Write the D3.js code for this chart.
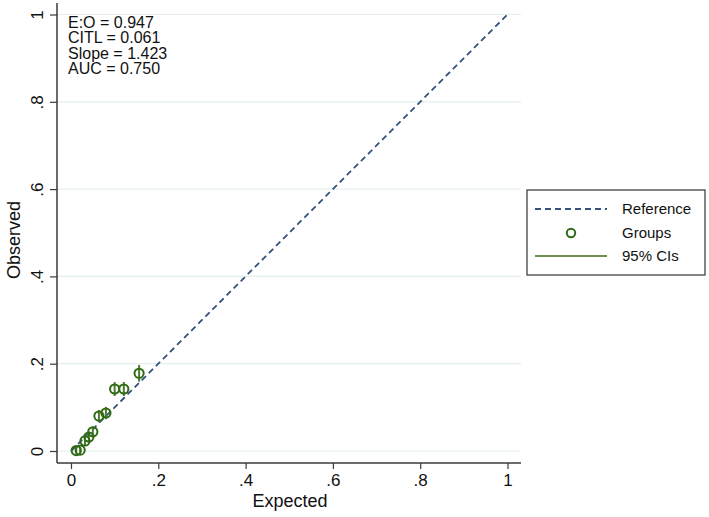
<!DOCTYPE html>
<html>
<head>
<meta charset="utf-8">
<script src="https://cdn.jsdelivr.net/npm/d3@7"></script>
<style>
  body { margin: 0; background: #fff; }
  svg { display: block; font-family: "Liberation Sans", Arial, Helvetica, sans-serif; }
</style>
</head>
<body>
<svg id="chart" width="709" height="517"></svg>
<script>
// ---- data ----
const expected = [0.012, 0.021, 0.032, 0.041, 0.050, 0.064, 0.080, 0.100, 0.121, 0.156];
const observed = [0.001, 0.002, 0.023, 0.032, 0.044, 0.080, 0.087, 0.142, 0.142, 0.178];
const ciLower  = [-0.006, -0.005, 0.014, 0.022, 0.032, 0.066, 0.073, 0.126, 0.126, 0.159];
const ciUpper  = [0.008, 0.009, 0.032, 0.042, 0.056, 0.094, 0.101, 0.158, 0.158, 0.197];
const tickValues = [0, 0.2, 0.4, 0.6, 0.8, 1];
const tickLabels = ["0", ".2", ".4", ".6", ".8", "1"];
const statLines = ["E:O = 0.947", "CITL = 0.061", "Slope = 1.423", "AUC = 0.750"];
const legendItems = ["Reference", "Groups", "95% CIs"];

const colDash = "#34527c";
const colPt = "#2f6a14";
const colCI = "#4f7d2e";
const colCILeg = "#6d8f50";
const colGrid = "#e4eeee";
const colAxis = "#3a3a3a";

const svg = d3.select("#chart");
const x = d3.scaleLinear().domain([0, 1]).range([71, 507.5]);
const y = d3.scaleLinear().domain([0, 1]).range([451, 14.5]);

const plotLeft = 57, plotRight = 521, plotTop = 3, plotBottom = 463;

// gridlines
svg.append("g").selectAll("line").data(tickValues).join("line")
  .attr("x1", plotLeft).attr("x2", plotRight)
  .attr("y1", d => y(d)).attr("y2", d => y(d))
  .attr("stroke", colGrid).attr("stroke-width", 1.2);

// y axis
const yAxis = d3.axisLeft(y).tickValues(tickValues)
  .tickFormat((d, i) => tickLabels[i]).tickSize(7).tickPadding(0);
const gy = svg.append("g").attr("transform", `translate(${plotLeft},0)`).call(yAxis);
gy.select(".domain").remove();
gy.selectAll(".tick line").attr("stroke", colAxis).attr("stroke-width", 1.2);
gy.selectAll(".tick text")
  .attr("transform", "translate(-20,0) rotate(-90)")
  .attr("x", 0).attr("y", 0).attr("dy", "0.35em")
  .attr("text-anchor", "middle")
  .attr("font-size", 17).attr("fill", "#111");
svg.append("line").attr("x1", plotLeft).attr("x2", plotLeft)
  .attr("y1", plotTop).attr("y2", plotBottom)
  .attr("stroke", colAxis).attr("stroke-width", 1.5);

// x axis
const xAxis = d3.axisBottom(x).tickValues(tickValues)
  .tickFormat((d, i) => tickLabels[i]).tickSize(6).tickPadding(5);
const gx = svg.append("g").attr("transform", `translate(0,${plotBottom})`).call(xAxis);
gx.select(".domain").remove();
gx.selectAll(".tick line").attr("stroke", colAxis).attr("stroke-width", 1.2);
gx.selectAll(".tick text").attr("font-size", 17).attr("fill", "#111");
svg.append("line").attr("x1", plotLeft).attr("x2", plotRight)
  .attr("y1", plotBottom).attr("y2", plotBottom)
  .attr("stroke", colAxis).attr("stroke-width", 1.5);

// axis titles
svg.append("text").attr("x", 290).attr("y", 507).attr("text-anchor", "middle")
  .attr("font-size", 18).attr("fill", "#111").text("Expected");
svg.append("text").attr("transform", "translate(14,240) rotate(-90)")
  .attr("dy", "0.35em").attr("text-anchor", "middle")
  .attr("font-size", 18).attr("fill", "#111").text("Observed");

// reference line
svg.append("line")
  .attr("x1", x(0)).attr("y1", y(0)).attr("x2", x(1)).attr("y2", y(1))
  .attr("stroke", colDash).attr("stroke-width", 1.8).attr("stroke-dasharray", "6,4");

// CIs
const idx = d3.range(expected.length);
svg.append("g").selectAll("line").data(idx).join("line")
  .attr("x1", i => x(expected[i])).attr("x2", i => x(expected[i]))
  .attr("y1", i => y(ciLower[i])).attr("y2", i => y(ciUpper[i]))
  .attr("stroke", colCI).attr("stroke-width", 2);

// points
svg.append("g").selectAll("circle").data(idx).join("circle")
  .attr("cx", i => x(expected[i])).attr("cy", i => y(observed[i]))
  .attr("r", 4.6).attr("fill", "none")
  .attr("stroke", colPt).attr("stroke-width", 2);

// stats text
svg.append("g").selectAll("text").data(statLines).join("text")
  .attr("x", 68).attr("y", (d, i) => 28 + i * 15.4)
  .attr("font-size", 16).attr("fill", "#111").text(d => d);

// legend
const lg = svg.append("g");
lg.append("rect").attr("x", 527).attr("y", 190).attr("width", 178).attr("height", 85)
  .attr("fill", "#fff").attr("stroke", "#333").attr("stroke-width", 1.2);
const legY = [209, 233, 256];
lg.append("line").attr("x1", 535).attr("x2", 607).attr("y1", legY[0]).attr("y2", legY[0])
  .attr("stroke", colDash).attr("stroke-width", 1.8).attr("stroke-dasharray", "6,4");
lg.append("circle").attr("cx", 571).attr("cy", legY[1]).attr("r", 4.2)
  .attr("fill", "none").attr("stroke", colPt).attr("stroke-width", 2);
lg.append("line").attr("x1", 535).attr("x2", 607).attr("y1", legY[2]).attr("y2", legY[2])
  .attr("stroke", colCILeg).attr("stroke-width", 2);
lg.selectAll("text").data(legendItems).join("text")
  .attr("x", 622).attr("y", (d, i) => legY[i]).attr("dy", "0.35em")
  .attr("font-size", 15).attr("fill", "#111").text(d => d);
</script>
</body>
</html>
